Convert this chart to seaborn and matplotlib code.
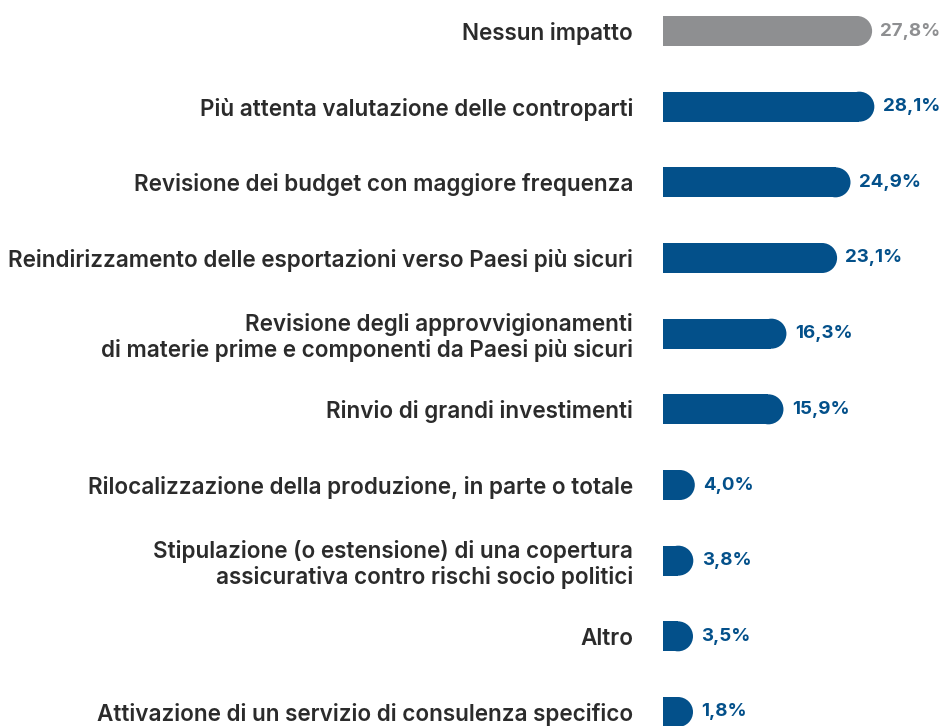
import numpy as np
import pandas as pd
import matplotlib
matplotlib.use('Agg')
import matplotlib.pyplot as plt
import seaborn as sns

# dati
categorie = [
    'Nessun impatto',
    'Più attenta valutazione delle controparti',
    'Revisione dei budget con maggiore frequenza',
    'Reindirizzamento delle esportazioni verso Paesi più sicuri',
    'Revisione degli approvvigionamenti\ndi materie prime e componenti da Paesi più sicuri',
    'Rinvio di grandi investimenti',
    'Rilocalizzazione della produzione, in parte o totale',
    'Stipulazione (o estensione) di una copertura\nassicurativa contro rischi socio politici',
    'Altro',
    'Attivazione di un servizio di consulenza specifico',
]
valori = [27.8, 28.1, 24.9, 23.1, 16.3, 15.9, 4.0, 3.8, 3.5, 1.8]
etichette = ['27,8%', '28,1%', '24,9%', '23,1%', '16,3%', '15,9%', '4,0%', '3,8%', '3,5%', '1,8%']

BLU = '#03508a'
GRIGIO = '#8e8f91'
colori = [GRIGIO] + [BLU] * (len(valori) - 1)

sns.set_theme(style='white')
plt.rcParams['font.family'] = ['Inter', 'DejaVu Sans']

W, H = 944, 726
fig = plt.figure(figsize=(W / 100, H / 100), dpi=100)
ax_left = 663 / W
ax = fig.add_axes([ax_left, 0, 1 - ax_left, 1])

px_per_unit = 7.45
row_px = (712 - 31) / 9
bar_px = 30
r_data = (bar_px / 2) / px_per_unit          # raggio del cap in unità dati
bar_h = bar_px / row_px

# lunghezza totale della barra (minimo = un semicerchio + mezzo rettangolo)
lunghezze = np.maximum(np.array(valori) + 2 / px_per_unit, 2 * r_data)
df = pd.DataFrame({'cat': categorie, 'len': lunghezze - r_data})

sns.barplot(data=df, y='cat', x='len', hue='cat', palette=colori, orient='h',
            width=bar_h, legend=False, ax=ax, linewidth=0, saturation=1)

# cap arrotondato
diam_pt = bar_px * 72 / 100
ax.scatter(lunghezze - r_data, np.arange(len(valori)), s=diam_pt ** 2, c=colori,
           marker='o', linewidths=0, zorder=3)

for i, (L, lab, col) in enumerate(zip(lunghezze, etichette, colori)):
    ax.annotate(lab, (L, i), xytext=(6, 0), textcoords='offset points',
                ha='left', va='center', fontsize=13.5, fontweight='bold', color=col)

ax.set_xlim(0, (W - 663) / px_per_unit)
ax.set_ylim(9 + (H - 712) / row_px, -31 / row_px)

ax.set_xlabel('')
ax.set_ylabel('')
ax.set_xticks([])
ax.set_yticks(range(len(categorie)))
ax.set_yticklabels(categorie, fontsize=16.2, fontweight='semibold', color='#2b2b2b',
                   ha='right', linespacing=1.15)
ax.tick_params(axis='y', length=0, pad=30 * 72 / 100)
sns.despine(ax=ax, left=True, bottom=True)

fig.savefig('out.png', dpi=100)
